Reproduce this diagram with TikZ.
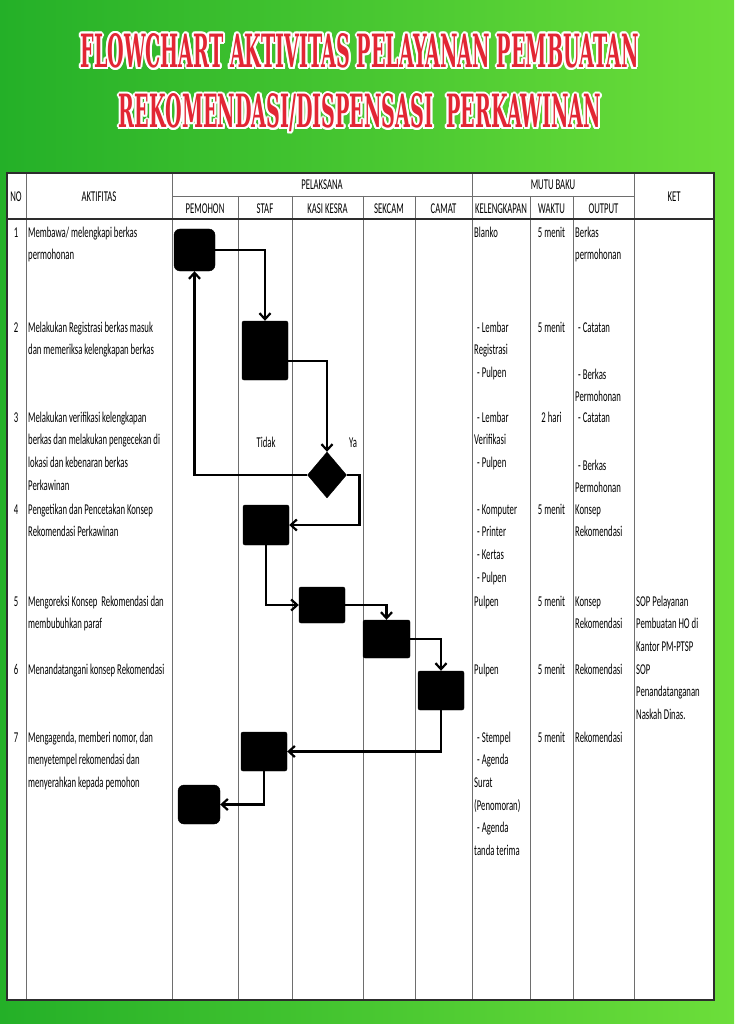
\documentclass[tikz,border=0pt]{standalone}
\usepackage{fontspec}
\setmainfont{Carlito}[FakeStretch=0.58]
\newfontfamily\titlefont{DejaVu Serif}
\usepackage[copies]{contour}
\contourlength{2pt}
\usetikzlibrary{arrows.meta,shapes.geometric}
\definecolor{bgL}{RGB}{36,176,40}
\definecolor{bgR}{RGB}{108,222,58}
\definecolor{titlered}{RGB}{226,38,52}
\definecolor{gridgray}{RGB}{110,110,110}
\definecolor{borderdark}{RGB}{45,45,45}
\newcommand\cellfont{\fontsize{15}{22.7}\selectfont}
\newcommand\titletext[3]{\contour{white}{\resizebox{#1}{#2}{\titlefont\bfseries\color{titlered}#3}}}
\tikzset{
  ttl/.style={inner sep=0pt, text=titlered},
  grid/.style={draw=gridgray, line width=0.9pt},
  border/.style={draw=borderdark, line width=1.2pt},
  % multi-line cells are placed by the baseline of their LAST line
  cell/.style={anchor=base west, inner sep=0pt, align=left, font=\cellfont},
  ccell/.style={anchor=base, inner sep=0pt, align=center, font=\cellfont},
  proc/.style={draw=black, fill=black, rounded corners=2pt, inner sep=0pt},
  term/.style={draw=black, fill=black, rounded corners=6pt, inner sep=0pt},
  decide/.style={diamond, draw=black, fill=black, inner sep=0pt, minimum width=39pt, minimum height=46pt},
  flow/.style={draw=black, line width=2.7pt, -{Straight Barb[length=6pt,width=11pt,line width=2.2pt]}},
}
\begin{document}
\begin{tikzpicture}[x=1pt,y=-1pt]
\useasboundingbox (0,0) rectangle (734,1024);
\shade[left color=bgL, right color=bgR] (0,0) rectangle (734,1024);
% title
\node[ttl] (title1) at (359.5,52) {\titletext{558pt}{34pt}{FLOWCHART AKTIVITAS PELAYANAN PEMBUATAN}};
\node[ttl] (title2) at (360,114) {\titletext{482pt}{34pt}{REKOMENDASI/DISPENSASI\ \ PERKAWINAN}};
% table
\fill[white] (7,173) rectangle (714,1000);
\foreach \x in {26,172,472,634} \draw[grid] (\x,173) -- (\x,1000);
\foreach \x in {238,292,363,415,530,573} \draw[grid] (\x,196) -- (\x,1000);
\draw[grid] (172,196) -- (634,196);
\draw[border] (7,219) -- (714,219);
\draw[border] (7,173) rectangle (714,1000);
% header
\node[ccell] (hno) at (16,202) {NO};
\node[ccell] (hakt) at (99,202) {AKTIFITAS};
\node[ccell] (hpel) at (322,190) {PELAKSANA};
\node[ccell] (hmutu) at (553,190) {MUTU BAKU};
\node[ccell] (hket) at (674,202) {KET};
\node[ccell] (hpem) at (205,214) {PEMOHON};
\node[ccell] (hstaf) at (265,214) {STAF};
\node[ccell] (hkasi) at (327.5,214) {KASI KESRA};
\node[ccell] (hsek) at (389,214) {SEKCAM};
\node[ccell] (hcam) at (443.5,214) {CAMAT};
\node[ccell] (hkel) at (501,214) {KELENGKAPAN};
\node[ccell] (hwak) at (551.5,214) {WAKTU};
\node[ccell] (hout) at (603.5,214) {OUTPUT};
% numbers
\node[ccell] (n1) at (16,237) {1};
\node[ccell] (n2) at (16,332) {2};
\node[ccell] (n3) at (16,422) {3};
\node[ccell] (n4) at (16,514) {4};
\node[ccell] (n5) at (16,606) {5};
\node[ccell] (n6) at (16,674) {6};
\node[ccell] (n7) at (16,742) {7};
% activities
\node[cell] (a1) at (28,259.7) {Membawa/ melengkapi berkas\\permohonan};
\node[cell] (a2) at (28,354.7) {Melakukan Registrasi berkas masuk\\dan memeriksa kelengkapan berkas};
\node[cell] (a3) at (28,490.1) {Melakukan verifikasi kelengkapan\\berkas dan melakukan pengecekan di\\lokasi dan kebenaran berkas\\Perkawinan};
\node[cell] (a4) at (28,536.7) {Pengetikan dan Pencetakan Konsep\\Rekomendasi Perkawinan};
\node[cell] (a5) at (28,628.7) {Mengoreksi Konsep\ \ Rekomendasi dan\\membubuhkan paraf};
\node[cell] (a6) at (28,674) {Menandatangani konsep Rekomendasi};
\node[cell] (a7) at (28,787.4) {Mengagenda, memberi nomor, dan\\menyetempel rekomendasi dan\\menyerahkan kepada pemohon};
% kelengkapan
\node[cell] (k1) at (474,237) {Blanko};
\node[cell] (k2) at (474,377.4) {\hspace{3pt}- Lembar\\Registrasi\\\hspace{3pt}- Pulpen};
\node[cell] (k3) at (474,467.4) {\hspace{3pt}- Lembar\\Verifikasi\\\hspace{3pt}- Pulpen};
\node[cell] (k4) at (474,582.1) {\hspace{3pt}- Komputer\\\hspace{3pt}- Printer\\\hspace{3pt}- Kertas\\\hspace{3pt}- Pulpen};
\node[cell] (k5) at (474,606) {Pulpen};
\node[cell] (k6) at (474,674) {Pulpen};
\node[cell] (k7) at (474,855.5) {\hspace{3pt}- Stempel\\\hspace{3pt}- Agenda\\Surat\\(Penomoran)\\\hspace{3pt}- Agenda\\tanda terima};
% waktu
\node[ccell] (w1) at (551.5,237) {5 menit};
\node[ccell] (w2) at (551.5,332) {5 menit};
\node[ccell] (w3) at (551.5,422) {2 hari};
\node[ccell] (w4) at (551.5,514) {5 menit};
\node[ccell] (w5) at (551.5,606) {5 menit};
\node[ccell] (w6) at (551.5,674) {5 menit};
\node[ccell] (w7) at (551.5,742) {5 menit};
% output
\node[cell] (o1) at (575,259.7) {Berkas\\permohonan};
\node[cell] (o2a) at (575,332) {\hspace{3pt}- Catatan};
\node[cell] (o2b) at (575,401.7) {\hspace{3pt}- Berkas\\Permohonan};
\node[cell] (o3a) at (575,422) {\hspace{3pt}- Catatan};
\node[cell] (o3b) at (575,492.7) {\hspace{3pt}- Berkas\\Permohonan};
\node[cell] (o4) at (575,536.7) {Konsep\\Rekomendasi};
\node[cell] (o5) at (575,628.7) {Konsep\\Rekomendasi};
\node[cell] (o6) at (575,674) {Rekomendasi};
\node[cell] (o7) at (575,742) {Rekomendasi};
% ket
\node[cell] (ket) at (636,719.5) {SOP Pelayanan\\Pembuatan HO di\\Kantor PM-PTSP\\SOP\\Penandatanganan\\Naskah Dinas.};
% flow shapes
\node[term, minimum width=41pt, minimum height=42pt] (b1) at (194.5,250) {};
\node[proc, minimum width=46pt, minimum height=59pt] (b2) at (265,350.5) {};
\node[decide] (dia) at (327,475) {};
\node[proc, minimum width=46pt, minimum height=40pt] (b4) at (266,525) {};
\node[proc, minimum width=46pt, minimum height=36pt] (b5) at (322,605) {};
\node[proc, minimum width=47pt, minimum height=38pt] (b6) at (386.5,639) {};
\node[proc, minimum width=46pt, minimum height=39pt] (b7) at (441,690.5) {};
\node[proc, minimum width=46pt, minimum height=39pt] (b8) at (264,751.5) {};
\node[term, minimum width=42pt, minimum height=39pt] (b9) at (199,804.5) {};
\node[ccell] (tidak) at (266,447) {Tidak};
\node[ccell] (ya) at (353,447) {Ya};
% connectors
\draw[flow] (b1.east) -| (b2.north);
\draw[flow] ([yshift=-10.5pt]b2.east) -| (dia.north);
\draw[flow] (dia.west) -| (b1.south);
\draw[flow] (dia.east) -- ++(13,0) |- (b4.east);
\draw[flow] (b4.south) |- (b5.west);
\draw[flow] (b5.east) -| (b6.north);
\draw[flow] (b6.east) -| (b7.north);
\draw[flow] (b7.south) |- (b8.east);
\draw[flow] (b8.south) |- (b9.east);
\end{tikzpicture}
\end{document}
